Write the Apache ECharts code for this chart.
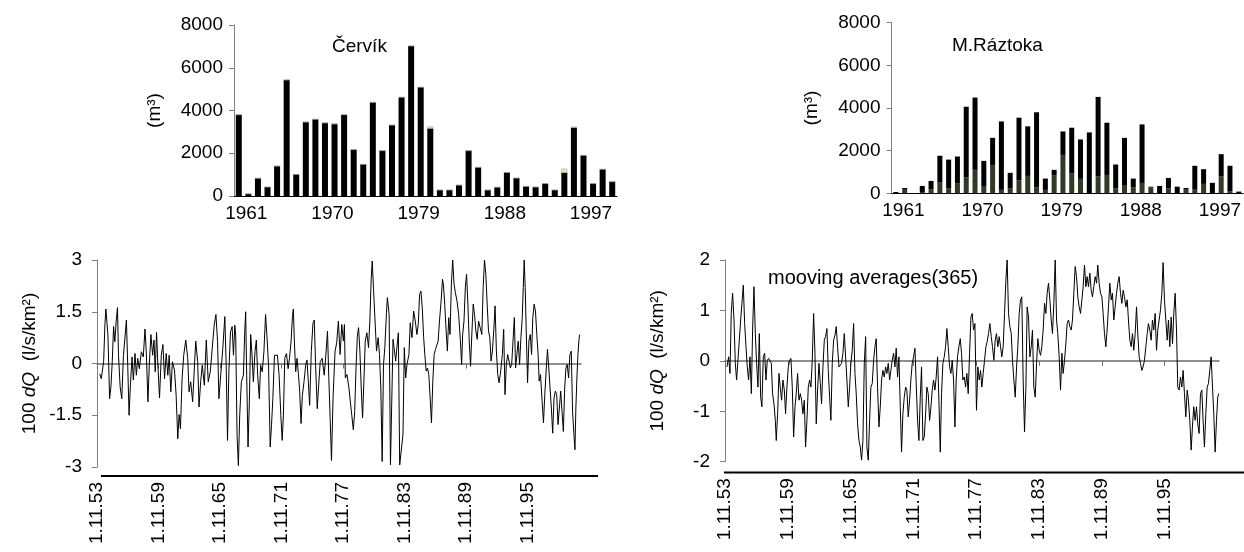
<!DOCTYPE html>
<html>
<head>
<meta charset="utf-8">
<script src="https://cdn.jsdelivr.net/npm/echarts@6/dist/echarts.min.js"></script>
</head>
<body style="margin:0; background:#fff;">
<div id="chart" style="width:1244px; height:552px;"></div>
<script>
// years of the two bar charts
var years = ['1961','1962','1963','1964','1965','1966','1967','1968','1969','1970',
             '1971','1972','1973','1974','1975','1976','1977','1978','1979','1980',
             '1981','1982','1983','1984','1985','1986','1987','1988','1989','1990',
             '1991','1992','1993','1994','1995','1996','1997','1998','1999','2000'];

// Červík, m3 (black part + light top part)
var cervikMain = [3800,100,830,420,1400,5430,1010,3460,3590,3420,
                  3360,3790,2170,1480,4380,2120,3320,4620,7020,5090,
                  3160,280,280,510,2120,1340,280,410,1100,840,
                  450,420,580,280,1090,3200,1900,580,1250,670];
var cervikTop  = [0,0,0,0,0,0,0,0,0,0,
                  40,50,0,0,0,0,0,0,0,0,
                  90,0,0,0,0,0,0,0,0,0,
                  0,0,0,0,190,40,0,0,0,0];

// M.Ráztoka, m3 (dark green lower part + black upper part)
var raztokaLow = [0,200,0,60,190,500,220,455,740,1100,
                  310,1330,160,220,600,815,270,160,830,1800,
                  940,675,0,785,860,220,390,280,485,270,
                  0,220,0,200,170,440,0,785,100,0];
var raztokaHigh = [60,50,0,285,390,1260,1360,1270,3320,3390,
                   1210,1270,3210,740,2945,2325,3530,530,270,1100,
                   2135,1850,2855,3735,2450,1130,2210,410,2745,40,
                   345,500,310,50,1120,690,490,1050,1190,80];

// tick labels of the lower charts (1 November of these years)
var tickYears = [1953,1959,1965,1971,1977,1983,1989,1995];
var novFirst = 0.833;

// 100 dQ, moving averages (365), [decimal year, value]
var cervikDQ = [[1954.10,-0.30],[1954.25,-0.44],[1954.48,0.05],[1954.61,1.16],[1954.70,1.58],[1954.83,1.58],[1954.90,0.82],[1955.06,-1.02],[1955.19,-0.68],[1955.32,0.05],[1955.45,1.07],[1955.57,0.63],[1955.70,1.21],[1955.83,1.62],[1955.93,0.24],[1956.09,-0.68],[1956.25,-1.02],[1956.41,0.24],[1956.54,0.68],[1956.70,1.26],[1956.83,-0.05],[1956.96,-1.50],[1957.09,-0.63],[1957.25,0.19],[1957.38,-0.48],[1957.54,0.29],[1957.67,-0.34],[1957.80,0.15],[1957.96,-0.15],[1958.16,0.34],[1958.35,0.19],[1958.51,1.00],[1958.64,0.34],[1958.80,-1.11],[1958.93,-0.05],[1959.09,0.84],[1959.26,0.24],[1959.39,0.68],[1959.51,-0.24],[1959.64,0.90],[1959.77,-0.05],[1959.93,-1.00],[1960.10,0.24],[1960.26,0.55],[1960.42,-0.44],[1960.58,0.29],[1960.74,-0.34],[1960.87,0.24],[1961.03,-0.82],[1961.19,0.05],[1961.39,-0.19],[1961.55,-0.92],[1961.71,-2.18],[1961.84,-1.48],[1961.97,-1.89],[1962.13,-0.44],[1962.29,0.24],[1962.49,0.68],[1962.68,0.15],[1962.81,-0.82],[1962.97,-0.53],[1963.16,-1.11],[1963.33,-1.16],[1963.46,0.65],[1963.65,0.05],[1963.78,-1.26],[1963.94,-0.53],[1964.10,-0.05],[1964.30,-0.63],[1964.49,0.68],[1964.68,-0.53],[1964.88,-0.24],[1965.07,0.44],[1965.26,1.11],[1965.43,1.42],[1965.59,0.63],[1965.72,-1.02],[1965.91,-1.07],[1966.10,0.44],[1966.30,1.36],[1966.43,-0.05],[1966.56,-2.23],[1966.69,-0.24],[1966.85,0.92],[1967.01,1.07],[1967.14,0.24],[1967.27,1.11],[1967.36,0.82],[1967.49,-2.08],[1967.62,-2.96],[1967.75,-1.50],[1967.91,-0.53],[1968.11,-0.34],[1968.24,0.92],[1968.33,1.50],[1968.43,-0.34],[1968.56,-2.42],[1968.69,-1.11],[1968.82,0.84],[1968.95,0.24],[1969.08,-0.53],[1969.24,0.34],[1969.37,0.68],[1969.50,-0.34],[1969.66,-1.02],[1969.79,-0.05],[1969.95,-0.24],[1970.11,0.34],[1970.27,1.42],[1970.40,0.82],[1970.56,-0.05],[1970.72,-2.42],[1970.85,-1.79],[1970.98,-1.02],[1971.14,0.24],[1971.30,0.29],[1971.43,0.24],[1971.59,-0.34],[1971.76,-1.50],[1971.89,-2.23],[1972.01,-1.50],[1972.14,0.15],[1972.31,0.29],[1972.47,-0.15],[1972.60,0.15],[1972.76,0.65],[1972.89,1.36],[1972.98,1.58],[1973.08,0.63],[1973.21,-0.24],[1973.34,0.15],[1973.47,-0.29],[1973.60,-0.82],[1973.73,-1.74],[1973.86,-0.92],[1974.02,-0.53],[1974.18,-0.05],[1974.31,0.10],[1974.44,-0.53],[1974.57,-1.21],[1974.73,0.34],[1974.89,1.16],[1975.02,1.26],[1975.15,-0.05],[1975.31,-1.31],[1975.44,-0.68],[1975.60,0.05],[1975.79,0.15],[1975.99,-0.34],[1976.15,0.24],[1976.31,0.94],[1976.44,-0.44],[1976.57,-1.60],[1976.70,-2.81],[1976.86,-0.92],[1977.05,0.36],[1977.21,0.60],[1977.37,1.23],[1977.54,0.26],[1977.70,1.13],[1977.86,0.65],[1977.96,1.13],[1978.05,-0.42],[1978.21,-0.32],[1978.38,-0.66],[1978.50,-1.00],[1978.67,-1.48],[1978.83,-1.92],[1978.96,-1.39],[1979.09,-0.13],[1979.22,0.79],[1979.34,1.04],[1979.47,0.36],[1979.60,-0.71],[1979.73,-1.58],[1979.86,-0.51],[1979.99,0.65],[1980.15,0.89],[1980.31,0.46],[1980.44,1.23],[1980.57,2.44],[1980.67,2.97],[1980.80,2.15],[1980.93,1.33],[1981.09,0.36],[1981.25,0.75],[1981.38,0.26],[1981.51,-0.71],[1981.64,-2.84],[1981.77,-0.03],[1981.90,0.46],[1982.06,1.47],[1982.15,1.91],[1982.32,1.42],[1982.45,-2.94],[1982.57,-2.94],[1982.70,0.70],[1982.83,0.70],[1982.96,0.07],[1983.09,0.50],[1983.22,0.89],[1983.35,-2.94],[1983.54,-2.94],[1983.67,-2.06],[1983.80,0.46],[1983.93,-0.42],[1984.06,-0.03],[1984.25,0.26],[1984.38,1.18],[1984.55,0.75],[1984.71,1.52],[1984.87,1.23],[1985.03,0.84],[1985.16,1.13],[1985.29,2.00],[1985.42,2.10],[1985.55,1.62],[1985.68,0.79],[1985.80,0.26],[1985.93,-0.22],[1986.06,-0.13],[1986.19,-0.32],[1986.32,-1.00],[1986.45,-1.72],[1986.58,-0.51],[1986.71,0.26],[1986.84,0.41],[1986.97,0.36],[1987.10,0.65],[1987.23,1.23],[1987.39,1.81],[1987.52,2.44],[1987.61,2.30],[1987.74,1.72],[1987.87,0.99],[1988.00,0.36],[1988.13,1.33],[1988.26,0.84],[1988.39,2.30],[1988.52,3.00],[1988.65,2.30],[1988.78,2.05],[1988.94,1.81],[1989.10,1.42],[1989.26,0.70],[1989.39,-0.03],[1989.49,0.84],[1989.62,1.23],[1989.75,2.20],[1989.87,2.59],[1990.00,1.72],[1990.13,0.65],[1990.26,-0.08],[1990.39,0.89],[1990.52,1.72],[1990.65,1.42],[1990.78,0.94],[1990.91,0.70],[1991.04,1.23],[1991.20,1.28],[1991.36,0.84],[1991.49,2.20],[1991.62,3.00],[1991.75,2.59],[1991.88,1.72],[1992.01,0.94],[1992.14,0.75],[1992.26,0.07],[1992.39,0.36],[1992.52,0.94],[1992.65,1.67],[1992.78,0.36],[1992.91,-0.32],[1993.04,-0.56],[1993.20,-0.22],[1993.36,0.26],[1993.49,0.99],[1993.62,-0.90],[1993.75,-0.03],[1993.88,0.26],[1994.01,0.07],[1994.14,-0.13],[1994.27,-0.03],[1994.40,0.65],[1994.53,1.33],[1994.65,-0.13],[1994.78,0.26],[1994.91,0.65],[1995.04,-0.03],[1995.17,0.75],[1995.30,1.33],[1995.40,2.20],[1995.49,3.00],[1995.59,2.20],[1995.69,0.94],[1995.82,-0.56],[1995.95,0.65],[1996.08,0.84],[1996.21,0.26],[1996.33,1.33],[1996.46,1.72],[1996.59,1.52],[1996.72,0.84],[1996.85,0.26],[1996.95,-0.51],[1997.08,-0.32],[1997.24,-1.09],[1997.37,-1.72],[1997.50,-0.90],[1997.63,-0.22],[1997.76,0.41],[1997.89,-0.13],[1998.01,-0.71],[1998.14,-1.29],[1998.27,-2.02],[1998.40,-1.00],[1998.53,-0.80],[1998.66,-0.90],[1998.79,-1.77],[1998.92,-1.29],[1999.05,-0.80],[1999.18,-1.39],[1999.31,-1.97],[1999.44,-0.71],[1999.56,-0.13],[1999.69,-0.03],[1999.82,-0.42],[1999.95,0.26],[2000.08,0.36],[2000.21,-1.39],[2000.34,-2.06],[2000.44,-2.50],[2000.53,-1.29],[2000.63,-0.42],[2000.73,0.26],[2000.82,0.65],[2000.89,0.84]];

var raztokaDQ = [[1954.02,-0.12],[1954.18,0.08],[1954.31,-0.25],[1954.43,0.94],[1954.56,1.34],[1954.69,0.81],[1954.82,-0.05],[1954.94,-0.38],[1955.07,0.01],[1955.20,0.41],[1955.33,0.81],[1955.45,1.14],[1955.58,1.50],[1955.71,0.74],[1955.84,0.28],[1955.96,-0.12],[1956.09,-0.38],[1956.22,0.08],[1956.35,-0.65],[1956.47,0.61],[1956.60,1.47],[1956.73,0.54],[1956.85,-0.05],[1956.98,-0.52],[1957.11,0.54],[1957.24,-0.72],[1957.36,-0.91],[1957.49,0.08],[1957.62,0.15],[1957.75,-0.38],[1957.87,0.01],[1958.00,0.05],[1958.13,0.08],[1958.26,-0.05],[1958.38,-0.65],[1958.51,-0.85],[1958.64,-1.18],[1958.73,-1.58],[1958.86,-1.05],[1958.99,-0.25],[1959.11,-0.52],[1959.24,-0.78],[1959.37,-0.38],[1959.50,-0.58],[1959.62,-1.05],[1959.75,-0.52],[1959.88,-0.12],[1960.01,0.01],[1960.13,0.05],[1960.26,-0.52],[1960.39,-1.51],[1960.52,-0.91],[1960.64,-0.65],[1960.77,-0.25],[1960.90,-0.78],[1961.03,-0.65],[1961.15,-0.78],[1961.28,-1.05],[1961.41,-0.78],[1961.53,-1.71],[1961.66,-1.18],[1961.79,-0.52],[1961.92,-0.38],[1962.04,-0.52],[1962.17,0.01],[1962.30,0.94],[1962.43,0.15],[1962.55,-1.25],[1962.68,-0.58],[1962.81,-0.05],[1962.94,-0.45],[1963.06,-0.85],[1963.19,-0.12],[1963.32,0.41],[1963.44,0.48],[1963.57,0.64],[1963.70,-0.19],[1963.83,-0.72],[1963.95,-1.18],[1964.08,-0.05],[1964.21,0.41],[1964.34,0.51],[1964.46,0.68],[1964.59,0.28],[1964.72,-0.12],[1964.85,-0.15],[1964.97,-0.05],[1965.10,0.15],[1965.23,0.54],[1965.36,0.54],[1965.48,-0.38],[1965.61,-0.91],[1965.74,-0.52],[1965.86,-0.05],[1965.99,0.21],[1966.12,0.74],[1966.25,-0.25],[1966.37,-0.65],[1966.50,-1.25],[1966.63,-1.58],[1966.76,-1.71],[1966.88,-1.97],[1967.01,-1.58],[1967.14,-0.05],[1967.27,0.48],[1967.39,-1.71],[1967.52,-1.97],[1967.65,-1.18],[1967.77,-0.52],[1967.90,-0.45],[1968.03,0.01],[1968.16,0.28],[1968.28,0.44],[1968.41,-0.52],[1968.54,-1.31],[1968.67,-0.91],[1968.79,-0.38],[1968.92,-0.19],[1969.05,-0.32],[1969.18,-0.12],[1969.30,-0.25],[1969.43,-0.05],[1969.56,-0.38],[1969.68,-0.19],[1969.81,0.01],[1969.94,0.15],[1970.07,-0.12],[1970.19,0.25],[1970.32,-0.32],[1970.45,0.08],[1970.58,-0.91],[1970.70,-1.81],[1970.83,-1.05],[1970.96,-0.72],[1971.09,-0.52],[1971.21,-0.58],[1971.34,-1.11],[1971.47,-0.78],[1971.59,-0.38],[1971.72,-0.05],[1971.85,0.08],[1971.98,0.25],[1972.10,-0.45],[1972.23,-1.18],[1972.36,-1.58],[1972.49,-0.72],[1972.61,-0.12],[1972.74,-1.58],[1972.87,-1.51],[1973.00,-1.05],[1973.12,-0.52],[1973.25,-0.65],[1973.38,-1.18],[1973.51,-0.91],[1973.63,-0.58],[1973.76,-0.38],[1973.89,-0.58],[1974.01,-0.32],[1974.14,0.08],[1974.27,-0.78],[1974.40,-1.81],[1974.52,-0.65],[1974.65,-0.05],[1974.78,0.08],[1974.91,0.28],[1975.03,0.64],[1975.16,0.28],[1975.29,-0.12],[1975.42,-0.25],[1975.54,0.01],[1975.67,-0.38],[1975.80,-1.31],[1975.92,-0.38],[1976.05,0.08],[1976.18,0.28],[1976.31,0.44],[1976.43,0.15],[1976.56,-0.38],[1976.69,-0.32],[1976.82,-0.52],[1976.94,-0.25],[1977.07,-0.65],[1977.20,0.15],[1977.33,0.87],[1977.45,0.94],[1977.58,0.61],[1977.71,0.74],[1977.86,-0.98],[1977.99,-0.12],[1978.12,-0.38],[1978.25,-0.19],[1978.37,-0.52],[1978.50,-0.25],[1978.63,0.01],[1978.76,0.28],[1978.88,0.38],[1979.01,0.54],[1979.14,0.74],[1979.27,0.48],[1979.39,0.28],[1979.52,0.01],[1979.65,0.41],[1979.77,0.54],[1979.90,0.28],[1980.03,0.48],[1980.16,0.28],[1980.28,0.08],[1980.41,0.28],[1980.54,0.94],[1980.67,1.60],[1980.79,2.00],[1980.92,0.94],[1981.05,0.68],[1981.18,0.54],[1981.30,0.01],[1981.43,-0.38],[1981.56,-0.72],[1981.69,-0.12],[1981.81,0.28],[1981.94,0.94],[1982.07,1.21],[1982.19,1.27],[1982.32,-0.38],[1982.45,-1.41],[1982.58,-0.52],[1982.70,1.07],[1982.83,0.87],[1982.96,0.08],[1983.09,0.28],[1983.21,0.61],[1983.34,-0.52],[1983.47,-0.72],[1983.60,-0.05],[1983.72,0.44],[1983.85,0.21],[1983.98,0.11],[1984.10,0.28],[1984.23,0.61],[1984.36,1.14],[1984.49,0.94],[1984.61,1.34],[1984.74,1.54],[1984.87,1.21],[1985.00,0.81],[1985.12,0.54],[1985.25,1.14],[1985.38,2.00],[1985.51,0.81],[1985.63,0.54],[1985.76,0.08],[1985.89,-0.58],[1986.02,0.15],[1986.14,-0.25],[1986.27,0.01],[1986.40,0.34],[1986.52,0.74],[1986.65,0.81],[1986.78,0.68],[1986.91,0.61],[1987.03,0.81],[1987.16,1.34],[1987.29,1.87],[1987.42,1.67],[1987.54,1.27],[1987.67,1.07],[1987.80,0.94],[1987.93,1.21],[1988.05,1.47],[1988.18,1.90],[1988.31,1.47],[1988.43,1.67],[1988.56,1.47],[1988.69,1.74],[1988.82,1.40],[1988.94,1.27],[1989.07,1.47],[1989.20,1.67],[1989.33,1.54],[1989.45,1.90],[1989.58,1.54],[1989.71,1.34],[1989.84,1.27],[1989.96,0.94],[1990.09,0.54],[1990.22,0.28],[1990.34,0.61],[1990.47,1.07],[1990.60,1.54],[1990.73,1.21],[1990.85,1.34],[1990.98,0.81],[1991.11,1.07],[1991.24,1.34],[1991.36,1.54],[1991.49,1.67],[1991.62,1.34],[1991.75,1.14],[1991.87,1.40],[1992.00,1.27],[1992.13,1.07],[1992.26,1.21],[1992.38,0.81],[1992.51,0.41],[1992.64,0.28],[1992.76,0.54],[1992.89,0.21],[1993.02,0.54],[1993.15,1.07],[1993.27,0.54],[1993.40,0.08],[1993.53,-0.05],[1993.66,-0.19],[1993.78,-0.12],[1993.91,0.01],[1994.04,0.28],[1994.17,0.54],[1994.29,0.74],[1994.42,0.61],[1994.55,0.41],[1994.67,0.81],[1994.80,0.61],[1994.93,0.94],[1995.06,0.21],[1995.18,0.61],[1995.31,0.81],[1995.44,1.01],[1995.57,1.34],[1995.69,1.95],[1995.82,1.21],[1995.95,0.81],[1996.08,0.41],[1996.20,0.81],[1996.33,0.28],[1996.46,0.87],[1996.59,0.34],[1996.71,0.94],[1996.84,1.34],[1996.97,0.61],[1997.09,-0.52],[1997.22,-0.58],[1997.35,-0.32],[1997.48,-0.52],[1997.60,-0.19],[1997.73,-0.65],[1997.86,-1.11],[1997.99,-0.58],[1998.11,-0.78],[1998.24,-1.18],[1998.37,-1.77],[1998.49,-1.31],[1998.62,-0.91],[1998.75,-1.18],[1998.88,-0.91],[1999.00,-1.25],[1999.13,-1.44],[1999.26,-0.65],[1999.39,-0.58],[1999.51,-1.18],[1999.64,-1.71],[1999.77,-1.05],[1999.90,-0.52],[2000.02,-0.45],[2000.15,-0.19],[2000.28,0.08],[2000.41,-0.52],[2000.53,-1.05],[2000.66,-1.81],[2000.79,-1.18],[2000.91,-0.72],[2001.01,-0.65]];

var FONT = 'Liberation Sans, Arial, sans-serif';
var tickPos = tickYears.map(function (y) { return y + novFirst; });
var tMin = 1953 + novFirst, tMax = 2001.03;

function barX(grid) {
    return {
        type: 'category', gridIndex: grid, data: years,
        axisLine: { lineStyle: { color: '#000', width: 1 } },
        axisTick: { interval: 8, length: 5, lineStyle: { color: '#000' } },
        axisLabel: { interval: 8, fontSize: 19, color: '#000', fontFamily: FONT, margin: 8,
                     padding: [0, 0, 0, 15] }
    };
}
function barY(grid, gap) {
    return {
        type: 'value', gridIndex: grid, min: 0, max: 8000, interval: 2000,
        name: '(m³)', nameLocation: 'middle', nameGap: gap,
        nameTextStyle: { fontSize: 19, color: '#000', fontFamily: FONT },
        axisLine: { show: true, lineStyle: { color: '#808080' } },
        axisTick: { show: true, length: 5, lineStyle: { color: '#808080' } },
        axisLabel: { fontSize: 19, color: '#000', fontFamily: FONT, margin: 11,
                     formatter: function (v) { return String(v); } },
        splitLine: { show: false }
    };
}
// x axis carrying the rotated date labels (below the plot)
function labelX(grid, off) {
    return {
        type: 'value', gridIndex: grid, min: tMin, max: tMax, position: 'bottom', offset: off,
        axisLine: { show: false, onZero: false },
        axisTick: { show: false },
        splitLine: { show: false },
        axisLabel: {
            customValues: tickPos, rotate: 90, margin: 6,
            fontSize: 19, color: '#000', fontFamily: FONT,
            formatter: function (v) {
                return '1.11.' + String(Math.round(v - novFirst) % 100).padStart(2, '0');
            }
        }
    };
}
// x axis drawn through zero
function zeroX(grid) {
    return {
        type: 'value', gridIndex: grid, min: tMin, max: tMax, position: 'bottom',
        axisLine: { show: true, onZero: true, lineStyle: { color: '#6b6b6b', width: 1.5 } },
        axisTick: { show: true, customValues: tickPos, length: 5, lineStyle: { color: '#6b6b6b' } },
        axisLabel: { show: false },
        splitLine: { show: false }
    };
}
function dqY(grid, mn, mx, step) {
    return {
        type: 'value', gridIndex: grid, min: mn, max: mx, interval: step,
        name: '100 {i|dQ}  (l/s/km²)', nameLocation: 'middle', nameGap: 58,
        nameTextStyle: {
            fontSize: 19, color: '#000', fontFamily: FONT,
            rich: { i: { fontStyle: 'italic', fontSize: 19, color: '#000', fontFamily: FONT } }
        },
        axisLine: { show: true, lineStyle: { color: '#808080' } },
        axisTick: { show: true, length: 5, lineStyle: { color: '#808080' } },
        axisLabel: { fontSize: 19, color: '#000', fontFamily: FONT, margin: 15 },
        splitLine: { show: false }
    };
}
function caption(txt, x, y, size) {
    return { text: txt, left: x, top: y, padding: 0,
             textStyle: { fontSize: size, fontWeight: 'normal', color: '#000', fontFamily: FONT } };
}

var chart = echarts.init(document.getElementById('chart'));
var option = {
    animation: false,
    backgroundColor: '#fff',
    textStyle: { fontFamily: FONT },
    title: [
        caption('Červík', 332, 37, 19),
        caption('M.Ráztoka', 952, 36, 19),
        caption('mooving averages(365)', 768, 268, 20)
    ],
    grid: [
        { left: 234, top: 25, width: 383, height: 171 },
        { left: 891.5, top: 22.7, width: 354, height: 170.6 },
        { left: 97, top: 260, width: 484, height: 207 },
        { left: 725, top: 260, width: 494, height: 201.7 }
    ],
    xAxis: [ barX(0), barX(1), labelX(2, 9), zeroX(2), labelX(3, 10.5), zeroX(3) ],
    yAxis: [ barY(0, 70), barY(1, 70), dqY(2, -3, 3, 1.5), dqY(3, -2, 2, 1) ],
    graphic: [
        { type: 'line', shape: { x1: 101, y1: 476, x2: 598, y2: 476 }, style: { stroke: '#000', lineWidth: 2 } },
        { type: 'line', shape: { x1: 724, y1: 472.5, x2: 1244, y2: 472.5 }, style: { stroke: '#000', lineWidth: 2 } }
    ],
    series: [
        { type: 'bar', xAxisIndex: 0, yAxisIndex: 0, stack: 'c', barWidth: 6, data: cervikMain,
          itemStyle: { color: '#000' } },
        { type: 'bar', xAxisIndex: 0, yAxisIndex: 0, stack: 'c', barWidth: 6, data: cervikTop,
          itemStyle: { color: '#f3e89a', borderColor: '#9a9a9a', borderWidth: 0.5 } },
        { type: 'bar', xAxisIndex: 1, yAxisIndex: 1, stack: 'r', barWidth: 5, data: raztokaLow,
          itemStyle: { color: '#2f3b24' } },
        { type: 'bar', xAxisIndex: 1, yAxisIndex: 1, stack: 'r', barWidth: 5, data: raztokaHigh,
          itemStyle: { color: '#000' } },
        { type: 'line', xAxisIndex: 3, yAxisIndex: 2, data: cervikDQ, showSymbol: false, symbol: 'none',
          clip: true, lineStyle: { color: '#000', width: 1 } },
        { type: 'line', xAxisIndex: 5, yAxisIndex: 3, data: raztokaDQ, showSymbol: false, symbol: 'none',
          clip: true, lineStyle: { color: '#000', width: 1 } }
    ]
};
chart.setOption(option);
</script>
</body>
</html>
